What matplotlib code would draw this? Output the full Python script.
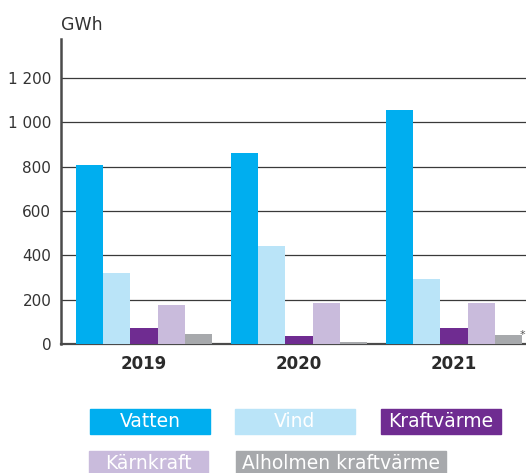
import matplotlib
matplotlib.use("Agg")
import matplotlib.pyplot as plt
import numpy as np
from matplotlib.patches import Rectangle

plt.rcParams["font.family"] = ["DejaVu Sans"]

years = ["2019", "2020", "2021"]
series = ["Vatten", "Vind", "Kraftvärme", "Kärnkraft", "Alholmen kraftvärme"]
vatten = [808, 862, 1057]
vind = [318, 442, 292]
kraftvarme = [72, 36, 72]
karnkraft = [176, 185, 185]
alholmen = [45, 8, 41]
colors = ["#00aeef", "#bae4f8", "#6f2c91", "#c9bbdc", "#a7a9ac"]
yticks = [0, 200, 400, 600, 800, 1000, 1200]

values = [vatten, vind, kraftvarme, karnkraft, alholmen]

fig = plt.figure(figsize=(5.26, 4.73), dpi=100)
ax = fig.add_axes([61 / 526, 1 - 344 / 473, 1 - 61 / 526, (344 - 39) / 473])

x = np.arange(len(years))
w = 0.1755
for i, (vals, c) in enumerate(zip(values, colors)):
    ax.bar(x + (i - 2) * w, vals, width=w, color=c, zorder=3)

ax.set_xlim(-0.535, 2.465)
ax.set_ylim(0, 1375)
ax.set_yticks(yticks)
ax.set_yticklabels([str(t) if t < 1000 else "%d %03d" % (t // 1000, t % 1000) for t in yticks],
                   fontsize=11, color="#333333")
ax.set_xticks(x)
ax.set_xticklabels(years, fontsize=12, fontweight="bold", color="#2b2b2b")
ax.tick_params(axis="y", length=0, pad=7)
ax.tick_params(axis="x", length=0, pad=8)
ax.yaxis.grid(True, color="#3a3a3a", linewidth=0.9, zorder=1)
ax.set_axisbelow(True)
for s in ["top", "right"]:
    ax.spines[s].set_visible(False)
ax.spines["left"].set_color("#4a4a4a")
ax.spines["left"].set_linewidth(1.8)
ax.spines["bottom"].set_color("#4a4a4a")
ax.spines["bottom"].set_linewidth(1.6)

# asterisk next to the last Alholmen bar
ax.annotate("*", xy=(x[-1] + 2.5 * w, alholmen[-1]), xytext=(-1.5, -4),
            textcoords="offset points", fontsize=8, color="#555555",
            ha="left", va="bottom", annotation_clip=False)

fig.text(61 / 526, 1 - 30 / 473, "GWh", fontsize=12.5, color="#333333",
         ha="left", va="baseline")

# legend boxes
boxes = [(90, 409, 120), (235, 409, 120), (381, 409, 120), (89, 451, 119), (236, 451, 210)]
for (bx, by, bw), name, c in zip(boxes, series, colors):
    fig.patches.append(Rectangle((bx / 526, 1 - (by + 25) / 473), bw / 526, 25 / 473,
                                 transform=fig.transFigure, color=c, zorder=1))
    fig.text((bx + bw / 2) / 526, 1 - (by + 12.5) / 473, name, color="white",
             fontsize=13.5, ha="center", va="center", zorder=2)

fig.savefig("out.png", dpi=100)
